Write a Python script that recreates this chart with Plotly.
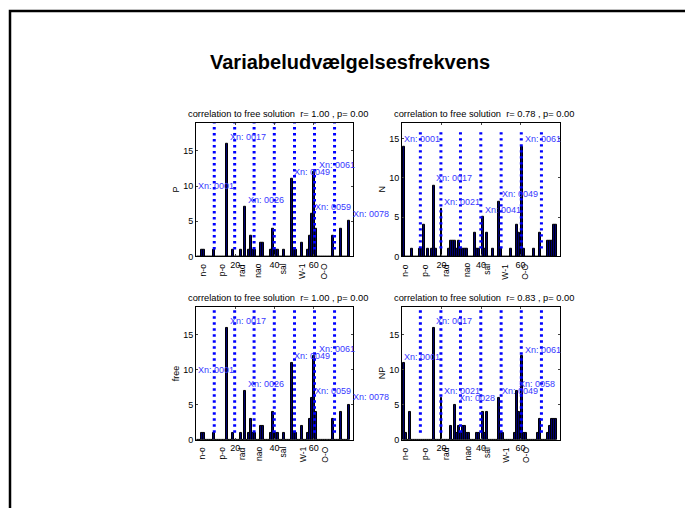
import plotly.graph_objects as go

# ---------------- data ----------------
VAR_IDX = list(range(1, 79))

P = [0, 0, 1, 1, 0, 0, 0, 0, 1, 0,
     0, 0, 0, 0, 0, 16, 0, 0, 1, 0,
     0, 0, 1, 0, 7, 0, 1, 3, 1, 1,
     0, 0, 2, 2, 0, 0, 0, 1, 4, 1,
     1, 1, 0, 0, 1, 0, 0, 0, 11, 1,
     1, 0, 0, 2, 0, 0, 1, 3, 6, 12,
     4, 0, 0, 0, 0, 0, 0, 0, 0, 3,
     0, 0, 0, 4, 0, 0, 0, 5]

N = [14, 0, 0, 0, 1, 0, 0, 0, 1, 1,
     4, 0, 1, 0, 1, 9, 1, 0, 0, 6,
     0, 0, 0, 1, 2, 2, 2, 1, 2, 1,
     1, 1, 1, 0, 0, 0, 3, 1, 1, 0,
     5, 1, 3, 0, 0, 1, 0, 0, 7, 1,
     0, 0, 0, 0, 1, 0, 0, 4, 3, 0,
     14, 1, 0, 0, 0, 0, 1, 0, 0, 3,
     0, 0, 0, 2, 2, 2, 4, 4]

FREE = [0, 0, 1, 1, 0, 0, 0, 0, 1, 0,
        0, 0, 0, 0, 0, 16, 0, 0, 1, 0,
        0, 0, 1, 0, 7, 0, 1, 3, 1, 1,
        0, 0, 2, 2, 0, 0, 0, 1, 4, 1,
        1, 1, 0, 0, 1, 0, 0, 0, 11, 1,
        1, 0, 0, 2, 0, 0, 1, 3, 6, 12,
        4, 0, 0, 0, 0, 0, 0, 0, 0, 3,
        0, 0, 0, 4, 0, 0, 0, 5]

NP = [11, 1, 0, 4, 0, 0, 0, 0, 0, 0,
      0, 0, 0, 0, 0, 16, 0, 0, 0, 6,
      0, 0, 0, 0, 2, 0, 5, 1, 2, 1,
      2, 2, 1, 1, 0, 0, 0, 1, 1, 0,
      4, 1, 4, 0, 0, 0, 0, 0, 6, 1,
      1, 0, 0, 0, 0, 0, 1, 7, 4, 0,
      12, 1, 1, 0, 0, 0, 0, 0, 1, 3,
      0, 0, 0, 1, 2, 3, 3, 3]

PANEL_NAMES = ["P", "N", "free", "NP"]
CORR_R = ["1.00", "0.78", "1.00", "0.83"]
CORR_P = ["0.00", "0.00", "0.00", "0.00"]

DIVIDERS = [9.3, 19.7, 29.6, 39.9, 50.2, 60.4, 70.6]
GROUP_LABELS = ["n-o", "p-o", "rad", "nao", "sal", "W-1", "O-O"]
GROUP_POS_LEFT = [3.3, 13.4, 23.4, 31.8, 44.5, 54.3, 65.3]
GROUP_POS_RIGHT = [1.5, 11.6, 22.2, 33.2, 43.0, 52.3, 62.5]
X_TICKS = [20, 40, 60]
Y_TICKS = [0, 5, 10, 15]

TIPS_P = [("Xn: 0001", 0, 10), ("Xn: 0017", 16.5, 17), ("Xn: 0026", 25.5, 8),
          ("Xn: 0049", 48.8, 12), ("Xn: 0061", 61.5, 13), ("Xn: 0059", 59.5, 7),
          ("Xn: 0078", 78.8, 6.1)]
TIPS_N = [("Xn: 0001", 0, 15), ("Xn: 0017", 16.3, 10), ("Xn: 0021", 20.1, 6.9),
          ("Xn: 0041", 41, 5.9), ("Xn: 0049", 49.4, 7.9), ("Xn: 0061", 61.3, 15)]
TIPS_FREE = TIPS_P
TIPS_NP = [("Xn: 0001", 0, 11.8), ("Xn: 0017", 16.3, 17), ("Xn: 0021", 20.1, 7),
           ("Xn: 0028", 27.9, 5.9), ("Xn: 0049", 49.4, 7), ("Xn: 0058", 58.1, 7.9),
           ("Xn: 0061", 61.3, 12.9)]

SERIES = [P, N, FREE, NP]
TIPS = [TIPS_P, TIPS_N, TIPS_FREE, TIPS_NP]
GROUP_POS = [GROUP_POS_LEFT, GROUP_POS_RIGHT, GROUP_POS_LEFT, GROUP_POS_RIGHT]

# ---------------- layout geometry (pixels) ----------------
W, H = 685, 508
BOXES = [(196, 353, 124, 259), (402, 560, 124, 259),
         (196, 353, 310, 444), (402, 560, 310, 444)]
FONT = "Liberation Sans, Arial, Helvetica, sans-serif"
TIP_COLOR = "#3838ff"

fig = go.Figure()
annotations = []

for i, (vals, name, tips, box) in enumerate(zip(SERIES, PANEL_NAMES, TIPS, BOXES)):
    k = "" if i == 0 else str(i + 1)
    xa, ya = "x" + k, "y" + k
    ymax = max(vals) + 3
    x0, x1, y0, y1 = box
    fig.add_trace(go.Bar(x=VAR_IDX, y=vals, xaxis=xa, yaxis=ya, width=1.0,
                         marker=dict(color="#000070", line=dict(color="black", width=1)),
                         showlegend=False, hoverinfo="skip"))
    div_top = ymax if name != "N" else ymax - 1
    for d in DIVIDERS:
        fig.add_trace(go.Scatter(x=[d, d], y=[1, div_top], xaxis=xa, yaxis=ya, mode="lines",
                                 line=dict(color="#0000ff", width=3, dash="2.4px,3.6px"),
                                 showlegend=False, hoverinfo="skip", cliponaxis=False))
    fig.update_layout(**{
        "xaxis" + k: dict(domain=[x0 / W, x1 / W], range=[0, 80], anchor=ya,
                          tickvals=X_TICKS, ticks="inside", ticklen=2, showline=True,
                          linecolor="black", linewidth=1, mirror="ticks", showgrid=False,
                          zeroline=False, tickfont=dict(size=9, color="black", family=FONT)),
        "yaxis" + k: dict(domain=[1 - y1 / H, 1 - y0 / H], range=[0, ymax], anchor=xa,
                          tickvals=Y_TICKS, ticks="inside", ticklen=2, showline=True,
                          linecolor="black", linewidth=1, mirror="ticks", showgrid=False,
                          zeroline=False, tickfont=dict(size=9, color="black", family=FONT)),
    })
    # subplot title
    annotations.append(dict(xref="paper", yref="paper", x=((x0 + x1) / 2 + 3) / W,
                            y=1 - (y0 - 2) / H, xanchor="center", yanchor="bottom",
                            showarrow=False,
                            text=f"correlation to free solution  r= {CORR_R[i]} , p= {CORR_P[i]}",
                            font=dict(size=9.3, family=FONT, color="black")))
    # y label
    annotations.append(dict(xref="paper", yref="paper", x=(x0 - 20) / W,
                            y=1 - ((y0 + y1) / 2) / H, xanchor="center", yanchor="middle",
                            showarrow=False, textangle=-90,
                            text=name, font=dict(size=9, family=FONT, color="black")))
    # group labels below the axis (rotated, reading upwards)
    for lab, pos in zip(GROUP_LABELS, GROUP_POS[i]):
        annotations.append(dict(xref=xa, yref="paper", x=pos, y=1 - (y1 + 5) / H,
                                yanchor="top", xanchor="center", showarrow=False,
                                textangle=-90, text=lab,
                                font=dict(size=8.5, family=FONT, color="black")))
    # data tips
    for txt, tx, ty in tips:
        annotations.append(dict(xref=xa, yref=ya, x=tx, y=ty, xanchor="left",
                                yanchor="middle", showarrow=False, text=txt,
                                font=dict(size=9, family=FONT, color=TIP_COLOR)))

annotations.append(dict(xref="paper", yref="paper", x=350 / W, y=1 - 63 / H,
                        xanchor="center", yanchor="middle", showarrow=False,
                        text="<b>Variabeludvælgelsesfrekvens</b>",
                        font=dict(size=20, family=FONT, color="black")))

fig.update_layout(
    width=W, height=H, margin=dict(l=0, r=0, t=0, b=0),
    paper_bgcolor="white", plot_bgcolor="white",
    annotations=annotations, bargap=0,
    shapes=[dict(type="rect", xref="paper", yref="paper", x0=10 / W, x1=1.05,
                 y0=-0.05, y1=1 - 11 / H, line=dict(color="black", width=2.5))],
)

fig.write_html("out.html", config={"displayModeBar": False},
               post_script="document.body.style.margin='0px';")
